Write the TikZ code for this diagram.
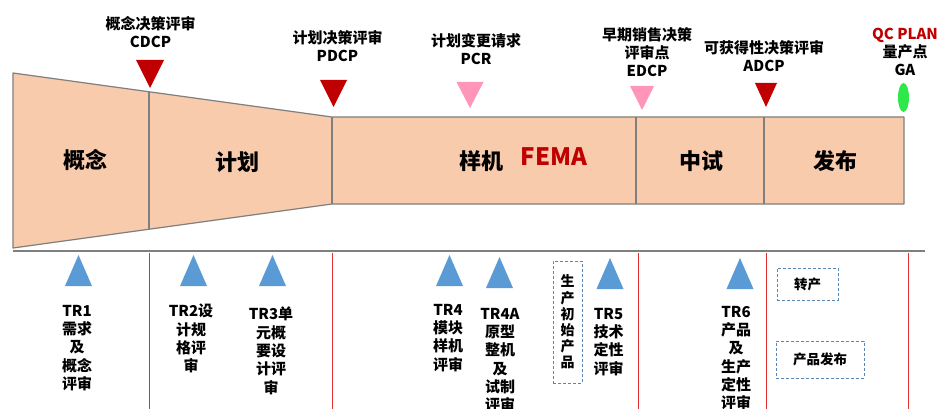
\documentclass[tikz,border=0pt]{standalone}
\usepackage{fontspec}
\setmainfont{Noto Sans CJK SC}
\definecolor{phasefill}{HTML}{F8CBAD}
\definecolor{phaseedge}{HTML}{7F7F7F}
\definecolor{markred}{HTML}{C00000}
\definecolor{markpink}{HTML}{FF96BA}
\definecolor{gagreen}{HTML}{2EE84A}
\definecolor{trblue}{HTML}{5B9BD5}
\definecolor{gatered}{HTML}{E03030}
\definecolor{boxblue}{HTML}{5A86B5}
\begin{document}
\begin{tikzpicture}[x=1pt,y=-1pt,
		phaseline/.style={draw=phaseedge,line width=1.2pt,line join=round},
		redmark/.style={fill=markred},
		pinkmark/.style={fill=markpink},
		trmark/.style={fill=trblue},
		gateline/.style={draw=gatered,line width=0.9pt},
		toplabel/.style={anchor=south,inner sep=0pt,align=center,font=\fontsize{15}{18}\selectfont\bfseries},
		trlabel/.style={anchor=north,inner sep=0pt,align=center,font=\fontsize{15}{18.3}\selectfont\bfseries},
		phase/.style={inner sep=0pt,font=\fontsize{22}{26}\selectfont\bfseries},
		dashbox/.style={draw=boxblue,dash pattern=on 3pt off 2pt,line width=0.8pt,inner sep=0pt,font=\fontsize{13.5}{16}\selectfont\bfseries}]
		
		\useasboundingbox (0,0) rectangle (940,409);
		\fill[white] (0,0) rectangle (940,409);
		
		% funnel of phases
		\coordinate (f1) at (13,73);
		\coordinate (f2) at (332,117);
		\coordinate (f3) at (904,117);
		\coordinate (f4) at (904,204);
		\coordinate (f5) at (332,204);
		\coordinate (f6) at (13,248);
		\filldraw[phaseline,fill=phasefill] (f1) -- (f2) -- (f3) -- (f4) -- (f5) -- (f6) -- cycle;
		\coordinate (d1t) at (149,92);
		\coordinate (d1b) at (149,229);
		\coordinate (d3t) at (636,117);
		\coordinate (d3b) at (636,204);
		\coordinate (d4t) at (764,117);
		\coordinate (d4b) at (764,204);
		\draw[phaseline] (d1t) -- (d1b);
		\draw[phaseline] (f2) -- (f5);
		\draw[phaseline] (d3t) -- (d3b);
		\draw[phaseline] (d4t) -- (d4b);
		
		\node[phase] (gainian) at (85,160) {概念};
		\node[phase] (jihua) at (237,162) {计划};
		\node[phase] (yangji) at (481,161) {样机};
		\node[phase,text=markred,font=\fontsize{24}{28}\selectfont\bfseries] (fema) at (554,157) {FEMA};
		\node[phase] (zhongshi) at (701,161) {中试};
		\node[phase] (fabu) at (835,161) {发布};
		
		% decision points
		\coordinate (cdcp) at (150,60);
		\coordinate (pdcp) at (333.5,80);
		\coordinate (pcr) at (470,82);
		\coordinate (edcp) at (642,86);
		\coordinate (adcp) at (766,83);
		\coordinate (ga) at (903.5,97.5);
		\fill[redmark] (cdcp) ++(-14,0) -- ++(28,0) -- ++(-14,28) -- cycle;
		\fill[redmark] (pdcp) ++(-13.5,0) -- ++(27,0) -- ++(-13.5,27) -- cycle;
		\fill[pinkmark] (pcr) ++(-13.5,0) -- ++(27,0) -- ++(-13.5,26) -- cycle;
		\fill[pinkmark] (edcp) ++(-12,0) -- ++(24,0) -- ++(-12,24) -- cycle;
		\fill[redmark] (adcp) ++(-11,0) -- ++(22,0) -- ++(-11,24) -- cycle;
		\fill[gagreen] (ga) ellipse [x radius=5.5, y radius=14.5];
		
		\node[toplabel] (cdcplbl) at (150.5,48) {概念决策评审\\CDCP};
		\node[toplabel] (pdcplbl) at (337.5,62) {计划决策评审\\PDCP};
		\node[toplabel] (pcrlbl) at (476,65) {计划变更请求\\PCR};
		\node[toplabel] (edcplbl) at (647,77) {早期销售决策\\评审点\\EDCP};
		\node[toplabel] (adcplbl) at (764,72) {可获得性决策评审\\ADCP};
		\node[toplabel] (galbl) at (905,76) {\textcolor{markred}{QC PLAN}\\量产点\\GA};
		
		% base line and gates
		\coordinate (basel) at (13,251);
		\coordinate (baser) at (925,251);
		\draw[draw=phaseedge,line width=1.6pt] (basel) -- (baser);
		\foreach \x [count=\i] in {149,332,638,766,908} {
			\coordinate (g\i) at (\x,253);
			\coordinate (g\i e) at (\x,409);
			\draw[gateline] (g\i) -- (g\i e);
		}
		
		% technical reviews
		\foreach \x/\y [count=\i] in {78.5/255,193.5/255,272.5/255,449.5/255,499.5/257,610/258,740/258} {
			\coordinate (tr\i) at (\x,\y);
			\fill[trmark] (tr\i) -- ++(13.5,31) -- ++(-27,0) -- cycle;
		}
		\node[trlabel] (tr1lbl) at (77,305) {TR1\\需求\\及\\概念\\评审};
		\node[trlabel] (tr2lbl) at (191,304) {TR2设\\计规\\格评\\审};
		\node[trlabel] (tr3lbl) at (271,307) {TR3单\\元概\\要设\\计评\\审};
		\node[trlabel] (tr4lbl) at (448,304) {TR4\\模块\\样机\\评审};
		\node[trlabel] (tr4albl) at (500,308) {TR4A\\原型\\整机\\及\\试制\\评审};
		\node[trlabel] (tr5lbl) at (608.5,308) {TR5\\技术\\定性\\评审};
		\node[trlabel] (tr6lbl) at (736,306) {TR6\\产品\\及\\生产\\定性\\评审};
		
		\node[dashbox,minimum width=29pt,minimum height=122pt,align=center,font=\fontsize{14}{16.2}\selectfont\bfseries] (chushi) at (567.5,322) {生\\产\\初\\始\\产\\品};
		\node[dashbox,minimum width=61pt,minimum height=32pt] (zhuanchan) at (807.5,284) {转产};
		\node[dashbox,minimum width=88pt,minimum height=37pt] (fabubox) at (820,359.5) {产品发布};
		\end{tikzpicture}
\end{document}
